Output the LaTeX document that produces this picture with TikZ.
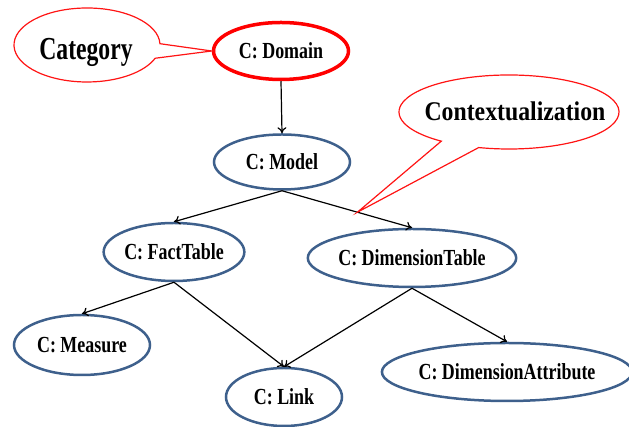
\documentclass[tikz,border=0pt]{standalone}
\usepackage{fontspec}
\setmainfont{Liberation Serif}
\usetikzlibrary{shapes.geometric,arrows.meta,calc}
\definecolor{conceptblue}{RGB}{62,96,140}
\definecolor{calloutred}{RGB}{255,20,20}
% horizontally condensed text
\newcommand{\narrow}[2][0.78]{\scalebox{#1}[1]{#2}}

\begin{document}
\begin{tikzpicture}[x=1pt,y=1pt,
  concept/.style={ellipse,draw=conceptblue,line width=2.5pt,inner sep=0pt,
    text depth=0pt,font=\fontsize{23}{23}\selectfont\bfseries},
  rel/.style={-{To[length=6pt,width=9pt]},line width=1.2pt},
  callout/.style={draw=calloutred,line width=1.2pt},
  calloutlabel/.style={inner sep=0pt,text depth=0pt}
]
\useasboundingbox (0,0) rectangle (629,427);

% concept hierarchy
\node[concept,draw=red,line width=3.5pt,minimum width=135pt,minimum height=57pt] (dom) at (281,376) {\narrow{C: Domain}};
\node[concept,minimum width=136pt,minimum height=55pt] (model) at (282,265) {\narrow{C: Model}};
\node[concept,minimum width=134pt,minimum height=58pt] (fact) at (174,175) {\narrow{C: FactTable}};
\node[concept,minimum width=200pt,minimum height=58pt] (dimt) at (412,169) {\narrow{C: DimensionTable}};
\node[concept,minimum width=136pt,minimum height=60pt] (meas) at (82,82) {\narrow{C: Measure}};
\node[concept,minimum width=116pt,minimum height=58pt] (link) at (284,30) {\narrow{C: Link}};
\node[concept,minimum width=236pt,minimum height=58pt] (dattr) at (507,55) {\narrow{C: DimensionAttribute}};

\draw[rel] (dom.south) -- (model.north);
\draw[rel] (model.south) -- (fact.north);
\draw[rel] (model.south) -- (dimt.north);
\draw[rel] (fact.south) -- (meas.north);
\draw[rel] (fact.south) -- (link.north);
\draw[rel] (dimt.south) -- (link.north);
\draw[rel] (dimt.south) -- (dattr.north);

% callout: Category
\coordinate (catc) at (87,382);
\draw[callout] ([shift={(catc)}]2:73 and 37) arc[start angle=2,end angle=339,x radius=73,y radius=37]
  -- (dom.west) -- cycle;
\node[calloutlabel,font=\fontsize{32}{32}\selectfont\bfseries] (cat) at (86,378) {\narrow[0.74]{Category}};

% callout: Contextualization
\coordinate (ctxc) at (509,315);
\coordinate (ctxtip) at ($(model.south)!0.58!(dimt.north)$);
\draw[callout] ([shift={(ctxc)}]254:110 and 37) arc[start angle=254,end angle=592,x radius=110,y radius=37]
  -- (ctxtip) -- cycle;
\node[calloutlabel,font=\fontsize{27}{27}\selectfont\bfseries] (ctx) at (515,316) {\narrow[0.88]{Contextualization}};
\end{tikzpicture}
\end{document}
